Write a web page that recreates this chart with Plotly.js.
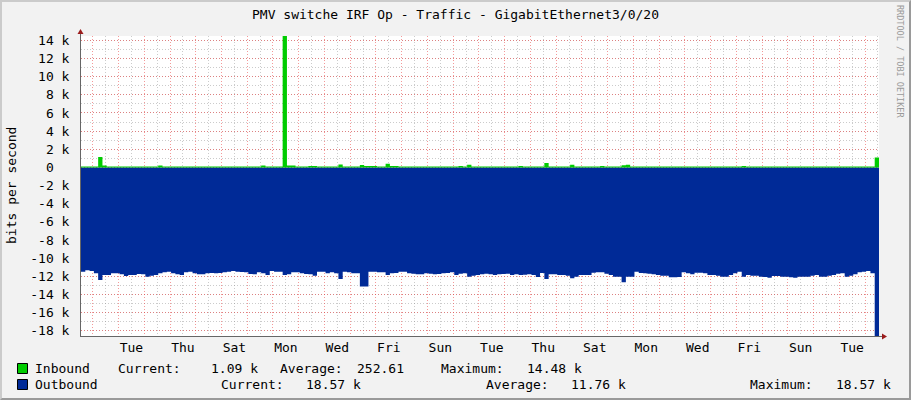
<!DOCTYPE html>
<html>
<head>
<meta charset="utf-8">
<script src="https://cdn.plot.ly/plotly-3.0.1.min.js"></script>
<style>
  html, body { margin: 0; padding: 0; background: #f2f2f2; }
  #wrap { position: relative; width: 911px; height: 400px; }
  #chart { width: 911px; height: 400px; }
  #frame {
    position: absolute; left: 0; top: 0; width: 911px; height: 400px;
    box-sizing: border-box; border: 2px solid;
    border-color: #cbcbcb #9a9a9a #9a9a9a #cbcbcb; pointer-events: none;
  }
</style>
</head>
<body>
<div id="wrap"><div id="chart"></div><div id="frame"></div></div>
<script>
// rrdtool-style monthly traffic graph

const FONT = '"DejaVu Sans Mono", "Liberation Mono", monospace';
const DAY = 86400000;
const START = Date.UTC(2023, 11, 31, 13, 0);   // Sun afternoon
const STEP = 4 * 3600 * 1000;                  // 4h consolidation

// bits per second, one value per 4h step (last one closes the final step)
const inbound = [
  100, 100, 100, 100, 1150, 200, 100, 100, 100, 100,
  100, 100, 100, 100, 100, 100, 100, 100, 200, 100,
  100, 100, 100, 100, 100, 100, 100, 100, 100, 100,
  100, 100, 100, 100, 100, 100, 100, 100, 100, 100,
  100, 100, 200, 100, 100, 100, 100, 14480, 200, 200,
  100, 100, 100, 170, 170, 100, 100, 100, 100, 100,
  320, 100, 100, 100, 100, 260, 170, 170, 170, 100,
  100, 400, 170, 170, 100, 100, 100, 100, 100, 100,
  100, 100, 100, 100, 100, 100, 100, 100, 170, 100,
  300, 100, 100, 100, 100, 100, 100, 100, 100, 100,
  100, 100, 170, 100, 100, 100, 100, 100, 500, 100,
  100, 100, 100, 100, 300, 100, 100, 100, 100, 100,
  100, 170, 100, 100, 100, 100, 250, 300, 100, 100,
  100, 100, 100, 100, 100, 100, 100, 100, 100, 100,
  100, 100, 100, 100, 100, 100, 100, 100, 100, 100,
  100, 100, 100, 100, 170, 100, 100, 100, 100, 100,
  100, 100, 100, 100, 100, 100, 100, 100, 100, 100,
  100, 100, 100, 100, 100, 100, 100, 100, 100, 100,
  100, 100, 100, 100, 100, 1090, 1090,
];

// drawn below zero
const outbound = [
  -11480, -11330, -11400, -11660, -12390, -11840, -11840, -11660, -11660, -11770,
  -11950, -11840, -11840, -11730, -11770, -12030, -11920, -11840, -11660, -11550,
  -11480, -11660, -11770, -11840, -11550, -11480, -11660, -11770, -11770, -11660,
  -11620, -11660, -11620, -11550, -11480, -11400, -11480, -11510, -11550, -11730,
  -11770, -11550, -11660, -11840, -11400, -11480, -11480, -11840, -11770, -11550,
  -11550, -11660, -11730, -11770, -11920, -11480, -11480, -11660, -11550, -11660,
  -12280, -11480, -11550, -11660, -11660, -13120, -13120, -11480, -11480, -11550,
  -11550, -11840, -11660, -11620, -11480, -11480, -11660, -11700, -11770, -11770,
  -11660, -11700, -11770, -11730, -11660, -11620, -11550, -11840, -11700, -11660,
  -12030, -11920, -11840, -11770, -11700, -11770, -11840, -11770, -11730, -11700,
  -11840, -11770, -11840, -11810, -11770, -11840, -12060, -11620, -12280, -11770,
  -11770, -11840, -11840, -11920, -12210, -12030, -11840, -11840, -11840, -11590,
  -11550, -11550, -11700, -11840, -12030, -12030, -12650, -12030, -12030, -11480,
  -11620, -11660, -11700, -11770, -11840, -11920, -11920, -12100, -12100, -12060,
  -11550, -11660, -11770, -11590, -11590, -11660, -11840, -11840, -11920, -12030,
  -12030, -11840, -11660, -11480, -12030, -11840, -11920, -11920, -12030, -12060,
  -12140, -11950, -11950, -12030, -12030, -12100, -12140, -12030, -12030, -12030,
  -11920, -11840, -12030, -12030, -11920, -11840, -11700, -11660, -12030, -11920,
  -11770, -11550, -11480, -11400, -11660, -18570, -18570,
];

const yTickVals = [-18000, -16000, -14000, -12000, -10000, -8000, -6000, -4000, -2000,
  0, 2000, 4000, 6000, 8000, 10000, 12000, 14000];
const yTickText = ['-18 k', '-16 k', '-14 k', '-12 k', '-10 k', '-8 k', '-6 k', '-4 k', '-2 k',
  '0\u00a0\u00a0', '2 k', '4 k', '6 k', '8 k', '10 k', '12 k', '14 k'];

const names = ['Inbound', 'Outbound'];
const statLabels = ['Current:', 'Average:', 'Maximum:'];
const inStats = ['1.09 k', '252.61', '14.48 k'];
const outStats = ['18.57 k', '11.76 k', '18.57 k'];

const GREEN = '#00cc00';
const BLUE = '#002a97';
const MAJOR = 'rgba(235,70,70,0.55)';
const MINOR = 'rgba(140,140,140,0.45)';
const DOTS = '1px,2px';

// plot box in page pixels, for legend placement
const L = 81, R = 879, T = 36, B = 336;
const px2x = (p) => (p - L) / (R - L);
const px2y = (p) => (B - p) / (B - T);

const times = outbound.map((_, i) => START + i * STEP);
const range = [START, START + 31 * DAY];

const traces = [
  {
    x: times, y: outbound, type: 'scatter', mode: 'lines',
    line: { shape: 'hv', width: 0, color: BLUE },
    fill: 'tozeroy', fillcolor: BLUE, hoverinfo: 'skip', showlegend: false,
  },
  {
    x: times, y: inbound, type: 'scatter', mode: 'lines',
    line: { shape: 'hv', width: 0, color: GREEN },
    fill: 'tozeroy', fillcolor: GREEN, hoverinfo: 'skip', showlegend: false,
  },
  // empty trace so the day-boundary grid axis gets its own subplot
  {
    x: range, y: [null, null], xaxis: 'x2', type: 'scatter', mode: 'none',
    hoverinfo: 'skip', showlegend: false,
  },
];

function ann(text, xpx, ypx, anchor, extra) {
  return Object.assign({
    text, xref: 'paper', yref: 'paper', x: px2x(xpx), y: px2y(ypx),
    xanchor: anchor, yanchor: 'middle', showarrow: false,
    font: { family: FONT, size: 13, color: '#000' }, borderpad: 0,
  }, extra || {});
}

const rowY = [368.3, 384.3];
const annotations = [
  ann(names[0], 34, rowY[0], 'left'),
  ann(statLabels[0], 116.7, rowY[0], 'left'),
  ann(inStats[0], 258.5, rowY[0], 'right'),
  ann(statLabels[1], 279.3, rowY[0], 'left'),
  ann(inStats[1], 405, rowY[0], 'right'),
  ann(statLabels[2], 440, rowY[0], 'left'),
  ann(inStats[2], 583, rowY[0], 'right'),
  ann(names[1], 34, rowY[1], 'left'),
  ann(statLabels[0], 220, rowY[1], 'left'),
  ann(outStats[0], 362, rowY[1], 'right'),
  ann(statLabels[1], 485, rowY[1], 'left'),
  ann(outStats[1], 627, rowY[1], 'right'),
  ann(statLabels[2], 749.3, rowY[1], 'left'),
  ann(outStats[2], 892, rowY[1], 'right'),
  ann('bits per second', 11, 186, 'center', { textangle: -90 }),
  ann('RRDTOOL / TOBI OETIKER', 900, 61, 'center',
    { textangle: 90, font: { family: FONT, size: 8.5, color: '#9a9a9a' } }),
];

const shapes = [
  // legend swatches
  { type: 'rect', xref: 'paper', yref: 'paper', x0: px2x(17.5), x1: px2x(27.5),
    y0: px2y(363.5), y1: px2y(373.5), fillcolor: GREEN, line: { color: '#000', width: 1 } },
  { type: 'rect', xref: 'paper', yref: 'paper', x0: px2x(17.5), x1: px2x(27.5),
    y0: px2y(379.5), y1: px2y(389.5), fillcolor: BLUE, line: { color: '#000', width: 1 } },
  // axis stubs + arrows
  { type: 'line', xref: 'paper', yref: 'paper', x0: px2x(80.5), x1: px2x(80.5),
    y0: px2y(36), y1: px2y(32), line: { color: '#666', width: 1 } },
  { type: 'line', xref: 'paper', yref: 'paper', x0: px2x(879), x1: px2x(884),
    y0: px2y(336.5), y1: px2y(336.5), line: { color: '#666', width: 1 } },
  { type: 'path', xref: 'paper', yref: 'paper', fillcolor: '#9b1c1c', line: { width: 0 },
    path: `M ${px2x(77.5)} ${px2y(34)} L ${px2x(83.5)} ${px2y(34)} L ${px2x(80.5)} ${px2y(29)} Z` },
  { type: 'path', xref: 'paper', yref: 'paper', fillcolor: '#9b1c1c', line: { width: 0 },
    path: `M ${px2x(882)} ${px2y(333.5)} L ${px2x(882)} ${px2y(339.5)} L ${px2x(887)} ${px2y(336.5)} Z` },
];

const layout = {
  width: 911,
  height: 400,
  paper_bgcolor: '#f2f2f2',
  plot_bgcolor: '#ffffff',
  margin: { l: L, r: 911 - R, t: T, b: 400 - B },
  showlegend: false,
  font: { family: FONT, size: 13, color: '#000' },
  title: {
    text: 'PMV switche IRF Op - Traffic - GigabitEthernet3/0/20',
    font: { family: FONT, size: 13, color: '#000' },
    xref: 'container', x: 0.5, xanchor: 'center',
    yref: 'container', y: 1 - 14 / 400, yanchor: 'middle',
  },
  xaxis: {
    type: 'date',
    range,
    tick0: '2024-01-02 12:00',
    dtick: 2 * DAY,
    tickformat: '%a',
    ticks: '',
    ticklabelstandoff: -1,
    tickfont: { family: FONT, size: 13, color: '#000' },
    showgrid: true, gridcolor: MINOR, griddash: DOTS, gridwidth: 1,
    minor: { tick0: '2024-01-02 12:00', dtick: DAY, showgrid: true, gridcolor: MINOR, griddash: DOTS, ticks: '' },
    showline: true, linecolor: '#666', linewidth: 1,
    zeroline: false, fixedrange: true,
  },
  // midnight day boundaries in red
  xaxis2: {
    type: 'date', overlaying: 'x', anchor: 'y', side: 'bottom',
    range, tick0: '2024-01-01', dtick: DAY,
    showgrid: true, gridcolor: MAJOR, griddash: DOTS, gridwidth: 1,
    showticklabels: false, ticks: '', showline: false, zeroline: false,
  },
  yaxis: {
    range: [-18570, 14480],
    tickmode: 'array', tickvals: yTickVals, ticktext: yTickText,
    ticks: '',
    ticklabelstandoff: 8,
    tickfont: { family: FONT, size: 13, color: '#000' },
    showgrid: true, gridcolor: MAJOR, griddash: DOTS, gridwidth: 1,
    minor: { tickmode: 'linear', tick0: 0, dtick: 1000, showgrid: true, gridcolor: MINOR, griddash: DOTS, ticks: '' },
    showline: true, linecolor: '#666', linewidth: 1,
    zeroline: false, fixedrange: true,
  },
  annotations,
  shapes,
};

Plotly.newPlot('chart', traces, layout, { displayModeBar: false, staticPlot: true });
</script>
</body>
</html>
